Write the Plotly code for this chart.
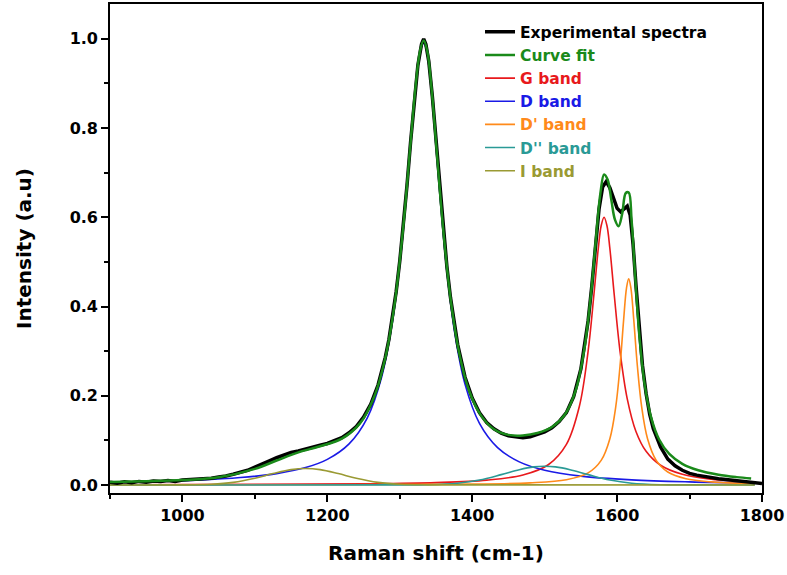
import plotly.graph_objects as go

# ---------------- data ----------------
x_exp = [900,910,920,930,940,950,960,970,980,990,1000,1010,1020,1030,1040,1050,1060,1070,1080,1090,
         1100,1110,1120,1130,1140,1150,1160,1170,1180,1190,1200,1210,1220,1230,1240,1250,1260,1270,1280,
         1285,1290,1295,1300,1305,1310,1315,1320,1325,1330,1333,1336,1340,1345,1350,1355,1360,1365,1370,
         1380,1390,1400,1410,1420,1430,1440,1450,1460,1470,1480,1490,1500,1510,1520,1530,1540,1550,1560,
         1565,1570,1575,1580,1585,1590,1595,1600,1605,1610,1614,1618,1622,1626,1630,1635,1640,1645,1650,
         1660,1670,1680,1690,1700,1710,1720,1730,1740,1750,1760,1770,1780,1790,1800]
y_exp = [0.006,0.004,0.007,0.005,0.008,0.006,0.009,0.008,0.010,0.008,0.011,0.012,0.012,0.014,0.015,0.018,0.020,0.024,0.028,0.033,
         0.040,0.046,0.054,0.061,0.068,0.073,0.076,0.081,0.084,0.089,0.093,0.099,0.106,0.117,0.131,0.152,0.181,0.224,0.286,
         0.326,0.375,0.433,0.502,0.583,0.672,0.770,0.862,0.941,0.988,1.000,0.988,0.950,0.870,0.770,0.667,0.573,0.490,0.420,
         0.314,0.242,0.195,0.162,0.140,0.126,0.116,0.110,0.107,0.106,0.108,0.113,0.119,0.128,0.142,0.162,0.198,0.260,0.368,
         0.445,0.533,0.618,0.668,0.680,0.666,0.642,0.620,0.612,0.620,0.625,0.605,0.540,0.448,0.356,0.268,0.205,0.158,0.126,
         0.085,0.058,0.043,0.033,0.026,0.022,0.019,0.016,0.014,0.012,0.010,0.008,0.007,0.005,0.003]

x_fit = [900,950,1000,1050,1100,1130,1160,1190,1220,1245,1265,1280,1293,1305,1315,1322,1328,1333,1338,1344,1351,1360,
         1370,1382,1396,1412,1430,1450,1470,1490,1510,1528,1543,1555,1564,1571,1577,1582,1587,1592,1597,1602,1607,
         1612,1616,1620,1625,1631,1638,1647,1658,1672,1690,1712,1740,1765,1785]
y_fit = [0.0065,0.0082,0.011,0.0172,0.0361,0.0548,0.073,0.0868,0.1038,0.138,0.199,0.2845,0.407,0.582,0.769,0.896,0.973,0.996,0.9715,0.886,0.748,0.572,
         0.4185,0.296,0.210,0.156,0.125,0.1123,0.111,0.1165,0.130,0.158,0.213,0.307,0.4295,0.5556,0.6547,0.696,0.684,0.639,0.5946,0.580,0.6078,
         0.6544,0.6554,0.593,0.4657,0.329,0.2254,0.151,0.102,0.0696,0.0474,0.0329,0.0229,0.0176,0.0147]

x_G = [900,1100,1250,1350,1420,1470,1505,1530,1548,1560,1568,1574,1578,1582,1586,1590,1596,1604,1614,1626,1640,1660,1690,1730,1790]
y_G = [0.0006,0.0013,0.0026,0.0053,0.0109,0.0223,0.0453,0.091,0.177,0.300,0.427,0.530,0.581,0.600,0.581,0.530,0.427,0.300,0.193,0.120,0.0755,0.0442,0.0239,0.013,0.0066]

x_D = [900,960,1020,1080,1130,1170,1200,1230,1255,1275,1290,1302,1312,1320,1326,1330,1333,1336,1340,1346,1354,1364,1376,1390,1410,1435,1465,1500,1550,1620,1700,1790]
y_D = [0.0057,0.0077,0.0109,0.0166,0.0255,0.039,0.0574,0.0922,0.150,0.242,0.367,0.526,0.705,0.857,0.947,0.982,0.99,0.981,0.942,0.842,0.679,0.495,0.339,0.226,0.138,0.0837,0.0518,0.033,0.0198,0.0114,0.0070,0.0045]

x_Dp = [900,1200,1400,1480,1530,1560,1578,1590,1598,1604,1609,1613,1616,1619,1623,1628,1634,1642,1654,1670,1695,1730,1790]
y_Dp = [0.0002,0.0005,0.0019,0.0048,0.0119,0.0272,0.0552,0.1038,0.174,0.266,0.370,0.442,0.462,0.442,0.370,0.266,0.174,0.1038,0.0552,0.029,0.0141,0.0069,0.003]

x_Dpp = [900,1300,1340,1380,1410,1440,1465,1485,1500,1515,1535,1560,1590,1620,1660,1700,1790]
y_Dpp = [0,0.0001,0.0006,0.0039,0.011,0.0232,0.0343,0.0405,0.042,0.0405,0.0343,0.0232,0.011,0.0039,0.0006,0.0001,0]

x_I = [900,1000,1040,1070,1100,1125,1150,1170,1190,1215,1240,1270,1300,1340,1790]
y_I = [0,0.0002,0.0016,0.0058,0.0150,0.0255,0.0344,0.037,0.0344,0.0255,0.0150,0.0058,0.0016,0.0002,0]

names = ["Experimental spectra", "Curve fit", "G band", "D band", "D' band", "D'' band", "I band"]
colors = ["#000000", "#1a8a1a", "#e8191c", "#1a1ae6", "#ff8a1a", "#2a9a96", "#9a9a33"]

x_ticks = [1000, 1200, 1400, 1600, 1800]
y_ticks = [0.0, 0.2, 0.4, 0.6, 0.8, 1.0]
y_tick_labels = ["0.0", "0.2", "0.4", "0.6", "0.8", "1.0"]

# ---------------- figure ----------------
def lbl(i):
    return f"<span style='color:{colors[i]}'>{names[i]}</span>"

fig = go.Figure()
comps = [(x_G, y_G, 2), (x_D, y_D, 3), (x_Dp, y_Dp, 4), (x_Dpp, y_Dpp, 5), (x_I, y_I, 6)]
for xs, ys, i in comps:
    fig.add_trace(go.Scatter(x=xs, y=ys, mode="lines", name=lbl(i), legendrank=10 + i,
                             line=dict(color=colors[i], width=1.6, shape="spline", smoothing=1.0)))
fig.add_trace(go.Scatter(x=x_exp, y=y_exp, mode="lines", name=lbl(0), legendrank=10,
                         line=dict(color=colors[0], width=3.5)))
fig.add_trace(go.Scatter(x=x_fit, y=y_fit, mode="lines", name=lbl(1), legendrank=11,
                         line=dict(color=colors[1], width=2.5, shape="spline", smoothing=1.0)))

FAM = "DejaVu Sans, Liberation Sans, Arial, sans-serif"
tickfont = dict(family=FAM, size=16, color="black", weight="bold")
titlefont = dict(family=FAM, size=20, color="black", weight="bold")

fig.update_layout(
    width=787, height=575,
    margin=dict(l=110, r=25, t=2, b=82),
    plot_bgcolor="white", paper_bgcolor="white",
    showlegend=True,
    legend=dict(x=0.5675, y=0.977, xanchor="left", yanchor="top", bgcolor="rgba(0,0,0,0)",
                font=dict(family=FAM, size=15.5, weight="bold"),
                tracegroupgap=0, itemwidth=30),
    xaxis=dict(range=[900, 1800], tickvals=x_ticks, ticktext=[str(v) for v in x_ticks],
               ticks="outside", ticklen=7, tickwidth=1.5, tickcolor="black",
               minor=dict(dtick=100, tick0=900, ticks="outside", ticklen=4, tickwidth=1.5, tickcolor="black"),
               showline=True, linecolor="black", linewidth=1.6, mirror=True,
               showgrid=False, zeroline=False, tickfont=tickfont,
               title=dict(text="Raman shift (cm-1)", font=titlefont, standoff=22)),
    yaxis=dict(range=[-0.018, 1.078], tickvals=y_ticks, ticktext=y_tick_labels,
               ticks="outside", ticklen=7, tickwidth=1.5, tickcolor="black",
               minor=dict(dtick=0.1, tick0=0, ticks="outside", ticklen=4, tickwidth=1.5, tickcolor="black"),
               showline=True, linecolor="black", linewidth=1.6, mirror=True,
               showgrid=False, zeroline=False, tickfont=tickfont,
               title=dict(text="Intensity (a.u)", font=titlefont, standoff=33)),
)

fig.write_html("out.html")
